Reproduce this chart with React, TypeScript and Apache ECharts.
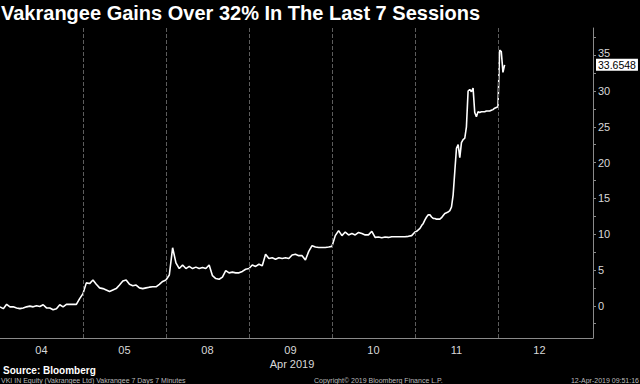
import React, { useEffect, useRef } from "react";
import * as echarts from "echarts";

// Trading sessions shown on the x axis
const dayLabels = ["04", "05", "08", "09", "10", "11", "12"];
// number of sampling steps that make up one full session, per session
const stepsPerSession = [25, 25, 25, 25, 25, 50, 50];

// % change readings per session
const day04 = [-0.15, -0.4, 0.2, -0.15, -0.15, -0.3, -0.4, -0.3, -0.15, -0.05, -0.15, 0.0, -0.1, 0.15, -0.3, -0.3, -0.55, -0.4, 0.15, -0.15, 0.2, 0.2, 0.2, 0.2, 1.0];
const day05 = [1.7, 3.2, 3.1, 3.6, 3.0, 2.5, 2.4, 2.2, 2.0, 2.2, 2.4, 2.9, 3.45, 3.6, 3.0, 2.8, 2.9, 2.5, 2.4, 2.5, 2.6, 2.65, 2.65, 3.0, 3.4];
const day08 = [3.6, 4.3, 8.1, 6.0, 5.2, 5.7, 5.2, 5.5, 5.2, 5.4, 5.2, 5.35, 5.2, 5.7, 4.2, 3.8, 3.7, 4.0, 4.9, 4.6, 4.7, 4.6, 4.6, 4.8, 5.1];
const day09 = [5.2, 5.7, 5.5, 5.8, 5.6, 7.2, 6.6, 6.7, 6.5, 6.7, 6.6, 6.7, 6.6, 7.1, 7.2, 7.0, 7.0, 6.4, 7.6, 8.4, 8.2, 8.15, 8.15, 8.15, 8.2];
const day10 = [8.3, 9.8, 10.5, 9.8, 10.3, 9.9, 10.1, 9.9, 10.25, 10.1, 9.9, 9.9, 10.4, 9.55, 9.6, 9.5, 9.6, 9.55, 9.65, 9.65, 9.65, 9.65, 9.65, 9.7, 9.8];
const day11 = [10.3, 10.4, 10.6, 10.8, 11.2, 11.5, 12.0, 12.4, 12.7, 12.7, 12.4, 12.2, 12.2, 12.1, 12.1, 12.1, 12.3, 12.6, 12.9, 13.0, 13.1, 13.3, 13.8, 15.5, 18.8, 22.0, 22.5, 20.7, 22.8, 23.2, 23.4, 25.0, 30.0, 30.2, 29.9, 30.4, 27.0, 26.4, 27.1, 27.0, 27.1, 27.1, 27.1, 27.2, 27.2, 27.2, 27.3, 27.4, 27.6, 27.7];
const day12 = [27.8, 35.7, 35.5, 32.6, 33.6548];

const yLabelValues = [0, 5, 10, 15, 20, 25, 30, 35];
const yTickValues = [-2.5, 0, 2.5, 5, 7.5, 10, 12.5, 15, 17.5, 20, 22.5, 25, 27.5, 30, 32.5, 35, 37.5];

const FONT = '"Liberation Sans", Arial, sans-serif';

export default function App() {
  const ref = useRef<HTMLDivElement>(null);

  useEffect(() => {
    const chart = echarts.init(ref.current!, null, { renderer: "svg" });
    const sessions = [day04, day05, day08, day09, day10, day11, day12];
    const points = sessions.flatMap((vals, d) =>
      vals.map((v, i) => [d + i / stepsPerSession[d], v])
    );
    const last = day12[day12.length - 1];
    const topLabel = yLabelValues[yLabelValues.length - 1];
    const separators = dayLabels.slice(1).map((_, i) => ({ xAxis: i + 1 }));

    chart.setOption({
      animation: false,
      backgroundColor: "#000",
      textStyle: { fontFamily: FONT },
      grid: { left: 0, right: 47, top: 28, bottom: 46 },
      xAxis: {
        type: "value",
        min: 0,
        max: 7.145,
        axisLine: { show: true, onZero: false, lineStyle: { color: "#8a8a8a", width: 1 } },
        axisTick: { show: false },
        splitLine: { show: false },
        axisLabel: {
          customValues: dayLabels.map((_, i) => i + 0.5),
          formatter: (v: number) => dayLabels[Math.floor(v)] ?? "",
          color: "#d8d8d8",
          fontSize: 11,
          margin: 6,
          fontFamily: FONT,
        },
      },
      yAxis: {
        type: "value",
        position: "right",
        min: -4.5,
        max: 38.8,
        axisLine: { show: true, onZero: false, lineStyle: { color: "#8a8a8a", width: 1 } },
        axisTick: { show: true, customValues: yTickValues, length: 3, lineStyle: { color: "#8a8a8a" } },
        axisLabel: {
          customValues: yLabelValues,
          formatter: (v: number) => (v === topLabel ? `{up|${v}}` : `${v}`),
          rich: {
            up: { fontSize: 11, lineHeight: 8, color: "#d8d8d8", fontFamily: FONT, padding: [0, 0, 5, 0] },
          },
          color: "#d8d8d8",
          fontSize: 11,
          lineHeight: 8,
          margin: 5,
          fontFamily: FONT,
        },
        splitLine: { show: false },
      },
      series: [
        {
          type: "line",
          data: points,
          showSymbol: false,
          symbol: "none",
          z: 3,
          lineStyle: { color: "#ffffff", width: 1.6 },
          markLine: {
            silent: true,
            symbol: ["none", "none"],
            label: { show: false },
            lineStyle: { type: "dashed", color: "#5c5c5c", width: 1 },
            data: [
              ...separators,
              {
                yAxis: last,
                lineStyle: { color: "rgba(0,0,0,0)", width: 0, type: "solid" },
                label: {
                  show: true,
                  position: "end",
                  formatter: last.toFixed(4),
                  backgroundColor: "#ffffff",
                  color: "#000000",
                  fontSize: 10.5,
                  lineHeight: 11,
                  fontFamily: FONT,
                  padding: [1, 2, 0, 2],
                  distance: 3,
                },
              },
            ],
          },
        },
      ],
      graphic: [
        {
          type: "text",
          x: 1,
          y: 3,
          style: {
            text: "Vakrangee Gains Over 32% In The Last 7 Sessions",
            fill: "#ffffff",
            fontSize: 20,
            fontWeight: "bold",
            fontFamily: FONT,
          },
        },
        {
          type: "text",
          x: 292,
          y: 364,
          style: { text: "Apr 2019", fill: "#d8d8d8", fontSize: 11, fontFamily: FONT, align: "center", verticalAlign: "middle" },
        },
        {
          type: "text",
          x: 3,
          y: 370,
          style: { text: "Source: Bloomberg", fill: "#ffffff", fontSize: 10, fontWeight: "bold", fontFamily: FONT, verticalAlign: "middle" },
        },
        {
          type: "text",
          x: 1,
          y: 380,
          style: { text: "VKI IN Equity (Vakrangee Ltd) Vakrangee 7 Days 7 Minutes", fill: "#bbbbbb", fontSize: 7, fontFamily: FONT, verticalAlign: "middle" },
        },
        {
          type: "text",
          x: 314,
          y: 380,
          style: { text: "Copyright© 2019 Bloomberg Finance L.P.", fill: "#bbbbbb", fontSize: 7, fontFamily: FONT, verticalAlign: "middle" },
        },
        {
          type: "text",
          x: 639,
          y: 380,
          style: { text: "12-Apr-2019 09:51:16", fill: "#bbbbbb", fontSize: 7, fontFamily: FONT, align: "right", verticalAlign: "middle" },
        },
      ],
    });
    return () => chart.dispose();
  }, []);

  return (
    <div
      ref={ref}
      style={{ position: "absolute", left: 0, top: 0, width: 640, height: 384, background: "#000" }}
    />
  );
}
